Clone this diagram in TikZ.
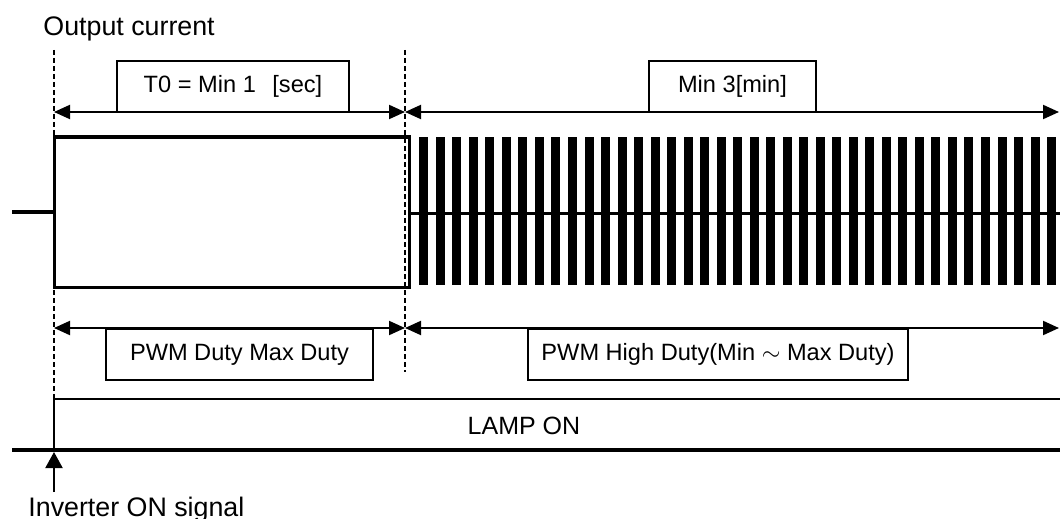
\documentclass[tikz,border=0pt]{standalone}
\usepackage{fontspec}
\setmainfont{Liberation Sans}
\usetikzlibrary{arrows.meta}

\tikzset{
  thinline/.style={line width=1pt},
  thickline/.style={line width=2pt},
  guide/.style={line width=0.6pt, dash pattern=on 2.5pt off 1.5pt},
  span/.style={line width=1pt, {Triangle[length=8pt,width=7pt]}-{Triangle[length=8pt,width=7pt]}},
  rise/.style={line width=1pt, -{Triangle[length=8pt,width=8.5pt]}},
  labelbox/.style={draw, line width=1pt, fill=white, inner sep=0pt,
    minimum height=25.5pt, font=\fontsize{11.8}{13}\selectfont},
  caption/.style={inner sep=0pt, font=\fontsize{13.4}{15}\selectfont}
}

\begin{document}
\begin{tikzpicture}[x=0.5pt, y=-0.5pt]
    \useasboundingbox (0,0) rectangle (1060,519);

    % --- Titre ---
    \node[caption, anchor=base west] (title) at (43,36) {Output current};

    % --- Reperes ---
    \coordinate (g0top) at (54,50);   \coordinate (g0bot) at (54,399);
    \coordinate (g1top) at (405,50);  \coordinate (g1bot) at (405,372);
    \coordinate (t0) at (54,112);  \coordinate (t1) at (405,112);  \coordinate (t2) at (1059,112);
    \coordinate (b0) at (54,328);  \coordinate (b1) at (405,328);  \coordinate (b2) at (1059,328);

    % --- Lignes de temps (pointilles) ---
    \draw[guide] (g0top) -- (g0bot);
    \draw[guide] (g1top) -- (g1bot);

    % --- Durees (haut) ---
    \draw[span] (t0) -- (t1);
    \draw[span] (t1) -- (t2);
    \node[labelbox, minimum width=116pt, anchor=south west] (tzero) at (116,113) {T0 = Min 1\hspace{0.7em}[sec]};
    \node[labelbox, minimum width=83.5pt, anchor=south west] (tmin) at (648,113) {Min 3[min]};

    % --- Courant : impulsion pleine puis PWM ---
    \draw[thickline] (12,212) -- (54,212);
    \draw[line width=1.5pt] (54,137) rectangle (409,287);
    \draw[thickline] (54,137) -- (409,137);
    \draw[line width=1.5pt] (409,213) -- (1060,213);
    \foreach \i in {0,...,38}
        \fill ({419.3+16.52*\i},137) rectangle +(9,148);

    % --- Durees (bas) ---
    \draw[span] (b0) -- (b1);
    \draw[span] (b1) -- (b2);
    \node[labelbox, minimum width=133.5pt, anchor=north west] (maxduty) at (105,328) {PWM Duty Max Duty};
    \node[labelbox, minimum width=190pt, anchor=north west] (highduty) at (527,328) {PWM High Duty(Min $\sim$ Max Duty)};

    % --- LAMP ON ---
    \coordinate (lamp0) at (54,450);  \coordinate (lamp1) at (54,399);  \coordinate (lamp2) at (1060,399);
    \coordinate (gnd0) at (12,450);   \coordinate (gnd1) at (1060,450);
    \draw[line width=1.2pt] (lamp0) -- (lamp1) -- (lamp2);
    \draw[thickline] (gnd0) -- (gnd1);
    \node[caption, font=\fontsize{12.5}{15}\selectfont] (lamp) at (524,426) {LAMP ON};

    % --- Signal ON ---
    \coordinate (sig) at (54,492);
    \draw[rise] (sig) -- (54,452);
    \node[caption, anchor=base west] (inv) at (28,516) {Inverter ON signal};
\end{tikzpicture}
\end{document}
